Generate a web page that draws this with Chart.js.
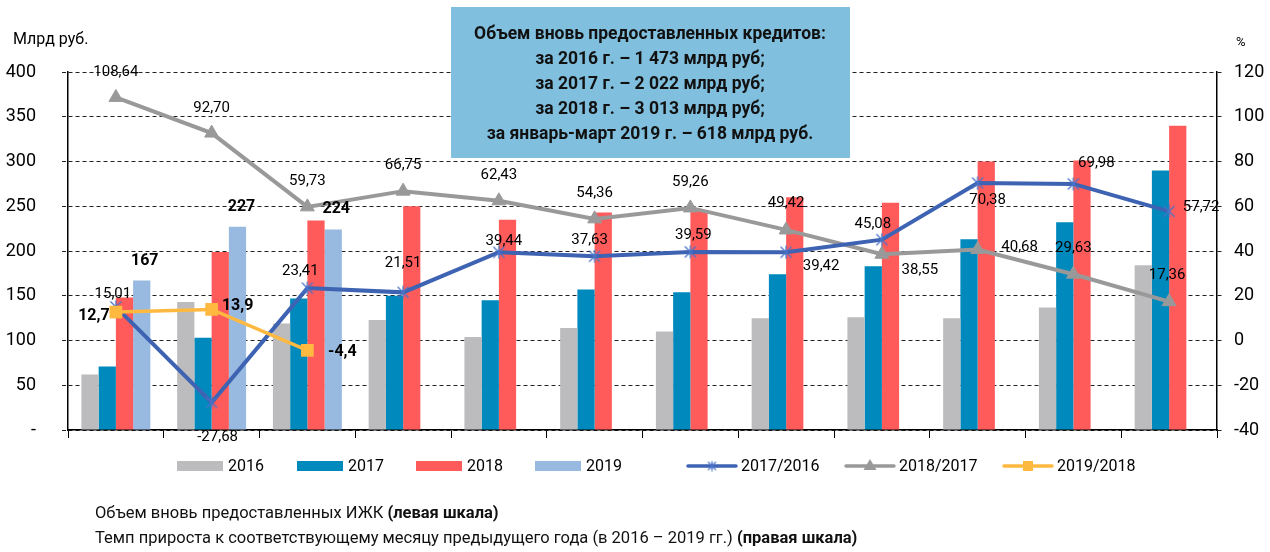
<!DOCTYPE html>
<html><head><meta charset="utf-8">
<script src="https://cdn.jsdelivr.net/npm/chart.js@4.4.1/dist/chart.umd.min.js"></script>
<style>html,body{margin:0;padding:0;background:#fff;}canvas{display:block;}</style>
</head><body>
<canvas id="c" width="1270" height="552"></canvas>
<script>
// ---- data ----
const months = ['Январь','Февраль','Март','Апрель','Май','Июнь','Июль','Август','Сентябрь','Октябрь','Ноябрь','Декабрь'];
const v2016 = [62, 143, 119, 123, 104, 114, 110, 125, 126, 125, 137, 184];
const v2017 = [71, 103, 147, 150, 145, 157, 154, 174, 183, 213, 232, 290];
const v2018 = [148, 199, 234, 250, 235, 243, 245, 260, 254, 300, 301, 340];
const v2019 = [167, 227, 224, null, null, null, null, null, null, null, null, null];
const g1716 = [15.01, -27.68, 23.41, 21.51, 39.44, 37.63, 39.59, 39.42, 45.08, 70.38, 69.98, 57.72];
const g1817 = [108.64, 92.70, 59.73, 66.75, 62.43, 54.36, 59.26, 49.42, 38.55, 40.68, 29.63, 17.36];
const g1918 = [12.7, 13.9, -4.4, null, null, null, null, null, null, null, null, null];
const leftTicks = {min: 0, max: 400, step: 50};
const rightTicks = {min: -40, max: 120, step: 20};
const seriesNames = ['2016','2017','2018','2019','2017/2016','2018/2017','2019/2018'];
const boxLines = ['Объем вновь предоставленных кредитов:','за 2016 г. – 1 473 млрд руб;','за 2017 г. – 2 022 млрд руб;','за 2018 г. – 3 013 млрд руб;','за январь-март 2019 г. – 618 млрд руб.'];

// ---- label placement (pixel offsets from the mark) ----
const off1817 = [[0,-25],[0,-25],[0,-26],[0,-26],[0,-26],[0,-26],[0,-26],[0,-27],[38,16],[42,-2],[0,-26],[-2,-26]];
const off1716 = [[-3,-13],[6,35],[-7,-17],[0,-29],[5,-11],[-5,-16],[3,-17],[35,14],[-9,-15],[10,17],[23,-21],[32,-4]];
const off1918 = [[-22,4],[26,-3],[35,2]];
const off2019 = [[3,-20],[4,-20],[3,-21]];

const FONT = 'Roboto, "Open Sans", sans-serif';
const C = {g16:'#bcbcbe', b17:'#0089bc', r18:'#ff5b5b', l19:'#98b9e0', blue:'#3d63b2', gray:'#999999', orange:'#ffb940', box:'#80bfdd'};

function starCanvas(size){
  const c = document.createElement('canvas'); c.width = size; c.height = size;
  const x = c.getContext('2d'); x.strokeStyle = '#4a73c8'; x.lineWidth = 1.3;
  const m = 1.5, s = size - 1.5;
  x.beginPath(); x.moveTo(m,m); x.lineTo(s,s); x.moveTo(s,m); x.lineTo(m,s);
  x.moveTo(size/2,m-1); x.lineTo(size/2,s+1); x.stroke();
  return c;
}
const star = starCanvas(14);
const starSmall = starCanvas(11);

const fmt2 = v => v.toFixed(2).replace('.', ',');
const fmt1 = v => v.toFixed(1).replace('.', ',');

const labelsPlugin = {
  id: 'lbls',
  afterDatasetsDraw(chart){
    const ctx = chart.ctx;
    const sets = [
      {i: 5, data: g1817, off: off1817, f: fmt2, bold: false},
      {i: 4, data: g1716, off: off1716, f: fmt2, bold: false},
      {i: 6, data: g1918, off: off1918, f: fmt1, bold: true},
      {i: 3, data: v2019, off: off2019, f: v => String(v), bold: true}
    ];
    ctx.save();
    ctx.textAlign = 'center'; ctx.textBaseline = 'middle'; ctx.fillStyle = '#000';
    sets.forEach(s => {
      ctx.font = (s.bold ? 'bold 16px ' : '15px ') + FONT;
      const meta = chart.getDatasetMeta(s.i);
      meta.data.forEach((el, k) => {
        const v = s.data[k];
        if (v === null || v === undefined || !s.off[k]) return;
        ctx.fillText(s.f(v), el.x + s.off[k][0], el.y + s.off[k][1]);
      });
    });
    ctx.restore();
  }
};

const decorPlugin = {
  id: 'decor',
  afterDraw(chart){
    const ctx = chart.ctx;
    ctx.save();
    // info box
    ctx.fillStyle = C.box; ctx.fillRect(451, 7, 399, 151);
    ctx.fillStyle = '#111'; ctx.textAlign = 'center'; ctx.textBaseline = 'middle';
    ctx.font = 'bold 17.5px ' + FONT;
    boxLines.forEach((t, k) => ctx.fillText(t, 650, 35 + k * 25, 390));
    // axis units
    ctx.textAlign = 'left'; ctx.fillStyle = '#000';
    ctx.font = '16px ' + FONT; ctx.fillText('Млрд руб.', 13, 40);
    ctx.font = '13px ' + FONT; ctx.fillText('%', 1236, 43);
    // legend
    const ly = 466;
    ctx.font = '16px ' + FONT; ctx.textBaseline = 'middle';
    const boxes = [[177, C.g16], [297, C.b17], [416, C.r18], [535, C.l19]];
    boxes.forEach((b, k) => {
      ctx.fillStyle = b[1]; ctx.fillRect(b[0], ly - 5, 46, 10);
      ctx.fillStyle = '#000'; ctx.fillText(seriesNames[k], b[0] + 51, ly + 1);
    });
    const lines = [[688, C.blue, 'star'], [846, C.gray, 'tri'], [1004, C.orange, 'sq']];
    lines.forEach((l, k) => {
      ctx.strokeStyle = l[1]; ctx.lineWidth = 3.5; ctx.lineCap = 'round';
      ctx.beginPath(); ctx.moveTo(l[0], ly); ctx.lineTo(l[0] + 48, ly); ctx.stroke();
      const cx = l[0] + 24;
      if (l[2] === 'star') ctx.drawImage(starSmall, cx - 5.5, ly - 5.5);
      if (l[2] === 'tri') { ctx.fillStyle = l[1]; ctx.beginPath(); ctx.moveTo(cx, ly - 7); ctx.lineTo(cx + 6.5, ly + 4); ctx.lineTo(cx - 6.5, ly + 4); ctx.closePath(); ctx.fill(); }
      if (l[2] === 'sq') { ctx.fillStyle = l[1]; ctx.fillRect(cx - 5, ly - 5, 10, 10); }
      ctx.fillStyle = '#000'; ctx.fillText(seriesNames[4 + k], l[0] + 53, ly + 1);
    });
    // footnotes
    const seg = (parts, x, y) => {
      parts.forEach(p => {
        ctx.font = (p[1] ? 'bold ' : '') + '16.5px ' + FONT;
        ctx.fillText(p[0], x, y); x += ctx.measureText(p[0]).width;
      });
    };
    ctx.textAlign = 'left'; ctx.fillStyle = '#111';
    seg([['Объем вновь предоставленных ИЖК ', false], ['(левая шкала)', true]], 95, 514);
    seg([['Темп прироста к соответствующему месяцу предыдущего года (в 2016 – 2019 гг.) ', false], ['(правая шкала)', true]], 95, 539);
    ctx.restore();
  }
};

const barDs = (label, data, color) => ({type: 'bar', label, data, backgroundColor: color, borderWidth: 0, yAxisID: 'y', order: 3, barPercentage: 1, categoryPercentage: 0.72});

new Chart(document.getElementById('c'), {
  data: {
    labels: months,
    datasets: [
      barDs(seriesNames[0], v2016, C.g16),
      barDs(seriesNames[1], v2017, C.b17),
      barDs(seriesNames[2], v2018, C.r18),
      barDs(seriesNames[3], v2019, C.l19),
      {type: 'line', label: seriesNames[4], data: g1716, yAxisID: 'y1', borderColor: C.blue, borderWidth: 4, pointStyle: star, pointRadius: 7, order: 1, tension: 0},
      {type: 'line', label: seriesNames[5], data: g1817, yAxisID: 'y1', borderColor: C.gray, borderWidth: 4, pointStyle: 'triangle', pointRadius: 8, pointBackgroundColor: C.gray, pointBorderColor: C.gray, pointBorderWidth: 1, order: 2, tension: 0},
      {type: 'line', label: seriesNames[6], data: g1918, yAxisID: 'y1', borderColor: C.orange, borderWidth: 3.5, pointStyle: 'rect', pointRadius: 9, pointBackgroundColor: C.orange, pointBorderColor: C.orange, pointBorderWidth: 0, order: 0, tension: 0}
    ]
  },
  options: {
    responsive: false, animation: false,
    layout: {padding: {top: 72, left: 0, right: 0, bottom: 0}},
    plugins: {legend: {display: false}, tooltip: {enabled: false}, title: {display: false}},
    scales: {
      x: {
        ticks: {display: false},
        grid: {offset: true, drawOnChartArea: false, drawTicks: true, tickLength: 8, tickColor: '#000', tickWidth: 1, tickBorderDash: []},
        border: {display: true, color: '#000', width: 1.5},
        afterFit(s){ s.height = 122; }
      },
      y: {
        position: 'left', min: leftTicks.min, max: leftTicks.max,
        ticks: {stepSize: leftTicks.step, color: '#000', font: {family: FONT, size: 18}, padding: 26, callback: v => v === 0 ? '-' : v},
        grid: {color: '#222', lineWidth: 1, tickLength: 6, tickColor: '#222', tickBorderDash: [4, 3]},
        border: {display: true, color: '#000', width: 1.5, dash: [4, 3]},
        afterFit(s){ s.width = 68; }
      },
      y1: {
        position: 'right', min: rightTicks.min, max: rightTicks.max,
        ticks: {stepSize: rightTicks.step, color: '#000', font: {family: FONT, size: 18}, padding: 10},
        grid: {drawOnChartArea: false, tickLength: 7, tickColor: '#222', tickBorderDash: [4, 3]},
        border: {display: true, color: '#000', width: 1.5},
        afterFit(s){ s.width = 53; }
      }
    }
  },
  plugins: [labelsPlugin, decorPlugin]
});
</script>
</body></html>
